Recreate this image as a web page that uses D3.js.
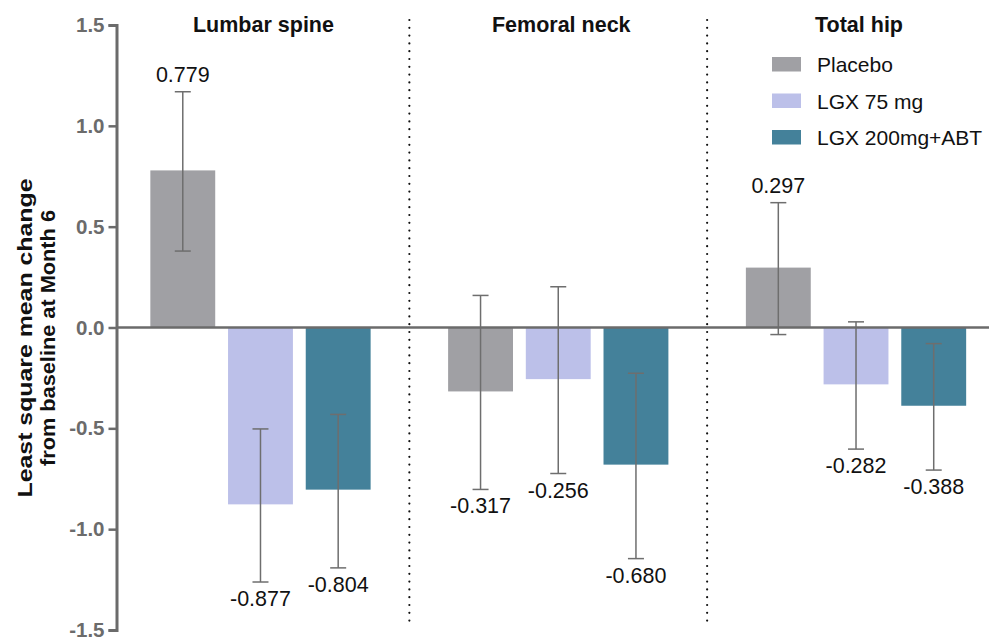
<!DOCTYPE html>
<html>
<head>
<meta charset="utf-8">
<script src="https://cdn.jsdelivr.net/npm/d3@7"></script>
<style>
  html, body { margin: 0; padding: 0; background: #fff; }
  svg { display: block; font-family: "Liberation Sans", Arial, sans-serif; }
</style>
</head>
<body>
<svg id="chart" width="989" height="637"></svg>
<script>
// ---- data ----
const groups = ["Lumbar spine", "Femoral neck", "Total hip"];
const series = ["Placebo", "LGX 75 mg", "LGX 200mg+ABT"];
const placeboValues = [0.779, -0.317, 0.297];
const lgx75Values = [-0.877, -0.256, -0.282];
const lgx200Values = [-0.804, -0.680, -0.388];
const placeboErrHigh = [1.169, 0.159, 0.619];
const placeboErrLow = [0.379, -0.803, -0.035];
const lgx75ErrHigh = [-0.503, 0.202, 0.028];
const lgx75ErrLow = [-1.262, -0.724, -0.603];
const lgx200ErrHigh = [-0.431, -0.227, -0.080];
const lgx200ErrLow = [-1.192, -1.146, -0.707];
const yTicks = [1.5, 1.0, 0.5, 0.0, -0.5, -1.0, -1.5];
const colors = ["#a0a0a4", "#bcc0e9", "#44819a"];
const yTitleLines = ["Least square mean change", "from baseline at Month 6"];

const valueSets = [placeboValues, lgx75Values, lgx200Values];
const highSets = [placeboErrHigh, lgx75ErrHigh, lgx200ErrHigh];
const lowSets = [placeboErrLow, lgx75ErrLow, lgx200ErrLow];

const rows = [];
series.forEach((s, si) => {
  groups.forEach((g, gi) => {
    rows.push({ group: g, series: s, si, value: valueSets[si][gi], hi: highSets[si][gi], lo: lowSets[si][gi] });
  });
});

// ---- scales ----
const svg = d3.select("#chart");
const y = d3.scaleLinear().domain([-1.5, 1.5]).range([630, 25]);
const gx = d3.scaleBand().domain(groups).range([111.6, 1004.9]).padding(0);
const ix = d3.scaleBand().domain(series).range([-116.55, 116.55]).paddingInner(0.165).paddingOuter(0.0825);
const color = d3.scaleOrdinal().domain(series).range(colors);
const gc = g => gx(g) + gx.bandwidth() / 2;
const axisX = 116.5;

// ---- dotted dividers ----
groups.slice(1).forEach(g => {
  svg.append("line")
    .attr("x1", gx(g)).attr("x2", gx(g))
    .attr("y1", 20).attr("y2", 621)
    .attr("stroke", "#111").attr("stroke-width", 2.2)
    .attr("stroke-linecap", "round")
    .attr("stroke-dasharray", "0,7.8");
});

// ---- bars ----
svg.append("g").selectAll("rect").data(rows).join("rect")
  .attr("x", d => gc(d.group) + ix(d.series))
  .attr("width", ix.bandwidth())
  .attr("y", d => y(Math.max(0, d.value)))
  .attr("height", d => Math.abs(y(d.value) - y(0)))
  .attr("fill", d => color(d.series));

// ---- error bars ----
const eg = svg.append("g").attr("stroke", "#6e6e6e").attr("stroke-width", 1.5).attr("fill", "none");
rows.forEach(d => {
  const cx = gc(d.group) + ix(d.series) + ix.bandwidth() / 2;
  eg.append("line").attr("x1", cx).attr("x2", cx).attr("y1", y(d.hi)).attr("y2", y(d.lo));
  eg.append("line").attr("x1", cx - 8).attr("x2", cx + 8).attr("y1", y(d.hi)).attr("y2", y(d.hi));
  eg.append("line").attr("x1", cx - 8).attr("x2", cx + 8).attr("y1", y(d.lo)).attr("y2", y(d.lo));
});

// ---- zero line ----
svg.append("line")
  .attr("x1", axisX).attr("x2", 989)
  .attr("y1", y(0)).attr("y2", y(0))
  .attr("stroke", "#6b6b6b").attr("stroke-width", 2.5);

// ---- value labels ----
svg.append("g").selectAll("text").data(rows).join("text")
  .attr("x", d => gc(d.group) + ix(d.series) + ix.bandwidth() / 2)
  .attr("y", d => d.value >= 0 ? y(d.hi) - 10 : y(d.lo) + 24)
  .attr("text-anchor", "middle")
  .attr("font-size", "21.5px")
  .attr("fill", "#111")
  .text(d => d3.format(".3f")(d.value).replace("−", "-"));

// ---- y axis ----
const yAxis = d3.axisLeft(y).tickValues(yTicks).tickSizeOuter(0).tickSize(8).tickPadding(4)
  .tickFormat(d => d3.format(".1f")(d).replace("−", "-"));
const ya = svg.append("g").attr("transform", `translate(${axisX},0)`).call(yAxis);
ya.select(".domain").attr("stroke", "#6b6b6b").attr("stroke-width", 3);
ya.selectAll(".tick line").attr("stroke", "#6b6b6b").attr("stroke-width", 2.5);
ya.selectAll(".tick text")
  .attr("fill", "#6b6b6b").attr("font-size", "20.5px").attr("font-weight", "bold")
  .attr("font-family", "'Liberation Sans', Arial, sans-serif");

// ---- y title ----
const titleLengths = [319, 256];
yTitleLines.forEach((t, i) => {
  svg.append("text")
    .attr("transform", `translate(${32 + i * 23},338) rotate(-90)`)
    .attr("text-anchor", "middle")
    .attr("font-size", "20px").attr("font-weight", "bold").attr("fill", "#111")
    .attr("textLength", titleLengths[i])
    .attr("lengthAdjust", "spacingAndGlyphs")
    .text(t);
});

// ---- group titles ----
svg.append("g").selectAll("text").data(groups).join("text")
  .attr("x", d => gc(d) + 3)
  .attr("y", 32)
  .attr("text-anchor", "middle")
  .attr("font-size", "21.5px").attr("font-weight", "bold").attr("fill", "#111")
  .text(d => d);

// ---- legend ----
const lg = svg.append("g").attr("transform", "translate(772,57)");
series.forEach((s, i) => {
  const row = lg.append("g").attr("transform", `translate(0,${i * 36.5})`);
  row.append("rect").attr("width", 29).attr("height", 14.5).attr("fill", color(s));
  row.append("text").attr("x", 45).attr("y", 15).attr("font-size", "21px").attr("fill", "#111").text(s);
});
</script>
</body>
</html>
